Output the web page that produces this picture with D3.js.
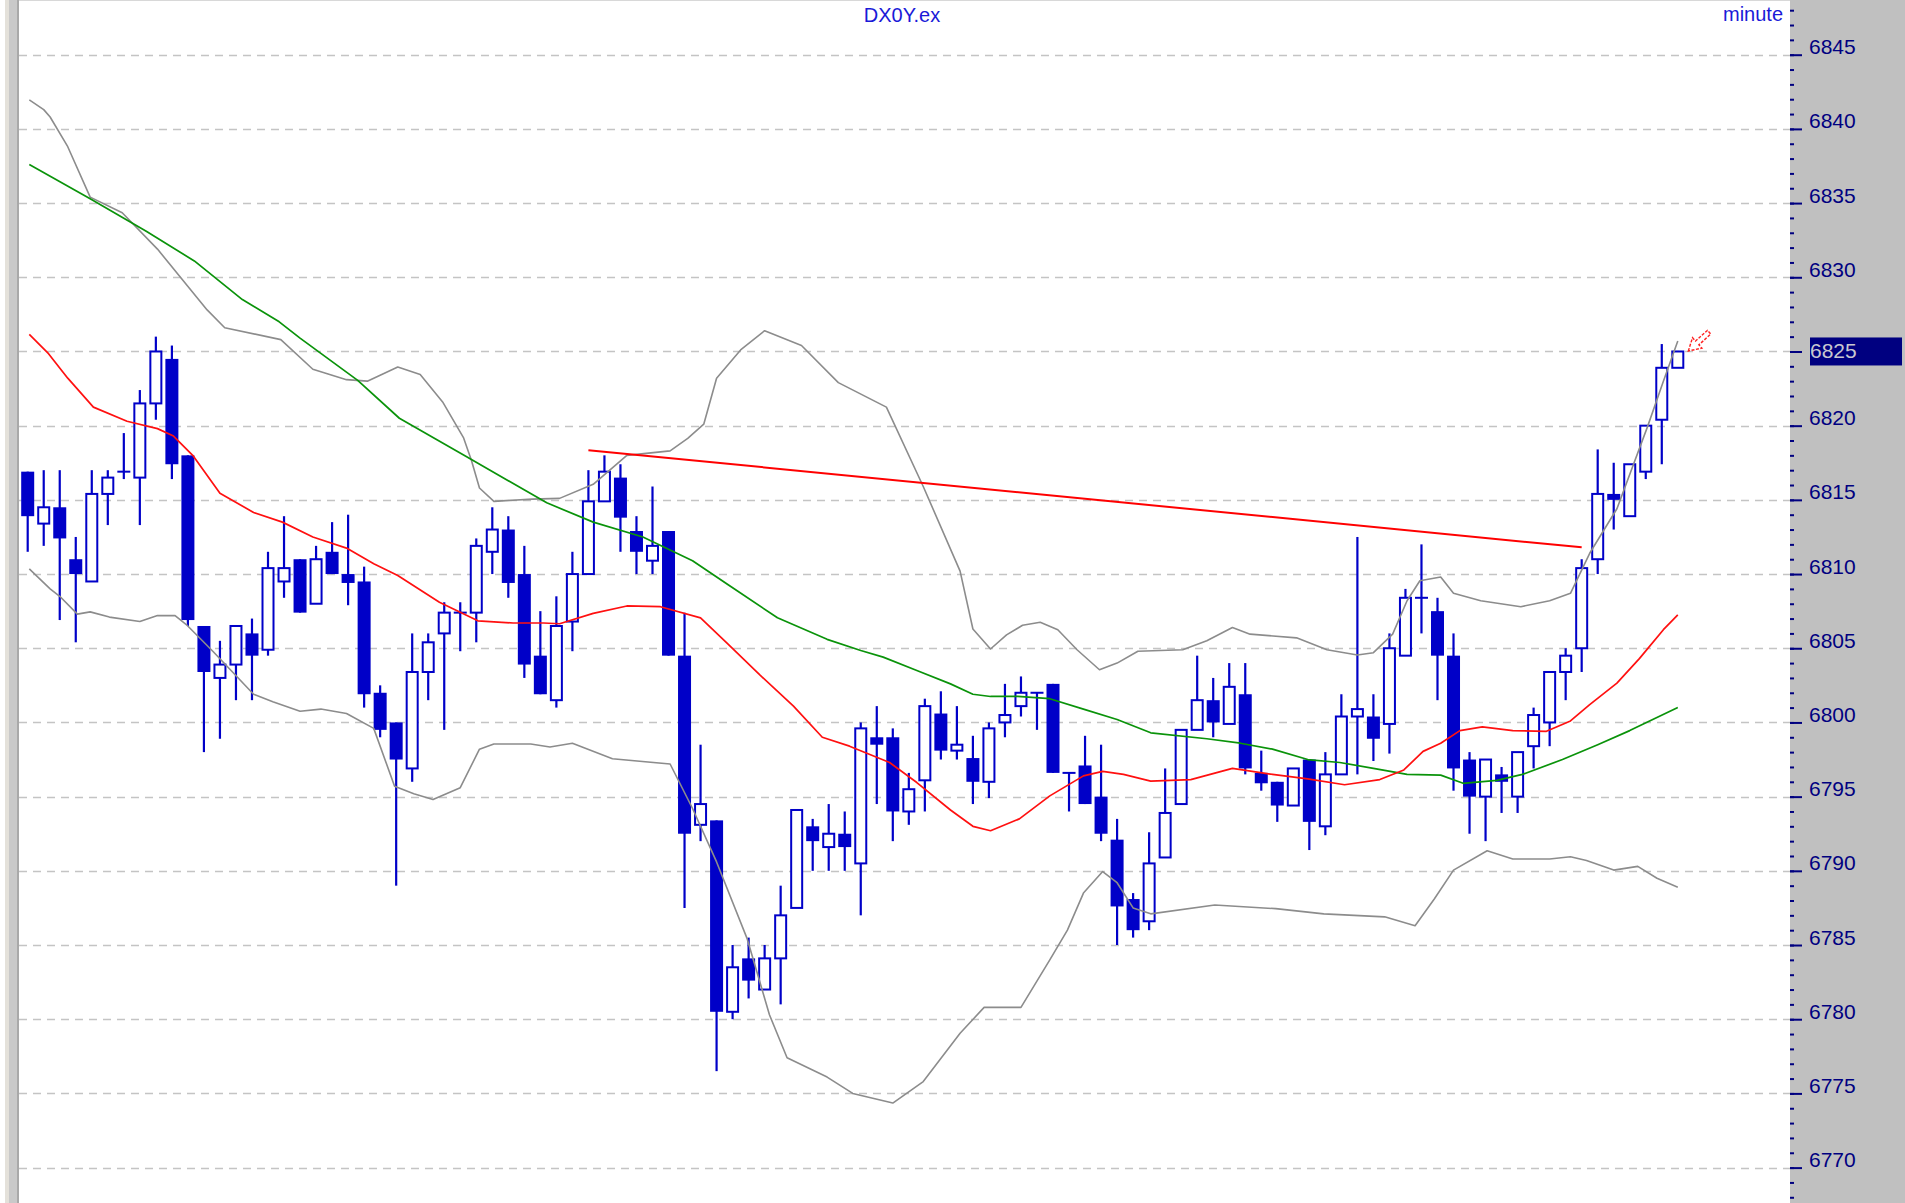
<!DOCTYPE html>
<html>
<head>
<meta charset="utf-8">
<script src="https://cdn.jsdelivr.net/npm/d3@7"></script>
<style>
  html, body { margin: 0; padding: 0; background: #fff; overflow: hidden; }
  svg { display: block; font-family: 'Liberation Sans', Arial, sans-serif; }
</style>
</head>
<body>
<div id="chart"></div>
<script>
// OHLC per minute bar (bar 1 .. 104)
const openP = [6816.9,6813.4,6814.5,6811.0,6809.5,6815.4,6816.9,6816.5,6821.5,6824.5,
  6818.0,6806.5,6803.0,6803.9,6806.0,6804.9,6809.5,6811.0,6808.0,6811.5,
  6810.0,6809.5,6802.0,6800.0,6796.9,6803.4,6806.0,6807.4,6807.4,6811.5,
  6813.0,6810.0,6804.5,6801.5,6806.8,6810.0,6814.9,6816.5,6812.9,6810.9,
  6812.9,6804.5,6793.1,6793.4,6780.5,6784.1,6782.0,6784.1,6787.5,6793.0,
  6791.6,6792.5,6790.5,6799.0,6799.0,6794.0,6796.1,6800.6,6798.1,6797.6,
  6796.0,6800.0,6801.1,6802.0,6802.6,6796.6,6797.1,6795.0,6792.1,6788.1,
  6786.6,6790.9,6794.5,6799.5,6801.5,6799.9,6801.9,6796.6,6796.0,6794.4,
  6797.5,6793.0,6796.5,6800.4,6800.4,6799.9,6804.5,6808.4,6807.5,6804.5,
  6797.5,6795.0,6796.5,6795.0,6798.4,6800.0,6803.4,6805.0,6811.0,6815.4,
  6813.9,6816.9,6820.4,6823.9];
const highP = [6816.9,6817.0,6817.0,6812.5,6817.0,6817.0,6819.5,6822.4,6826.0,6825.4,
  6818.0,6806.5,6805.5,6806.5,6807.0,6811.5,6813.9,6811.0,6811.9,6813.5,
  6814.0,6810.5,6802.5,6800.0,6806.0,6806.0,6808.1,6808.1,6812.4,6814.5,
  6813.9,6811.9,6807.5,6808.5,6811.5,6817.0,6818.0,6817.4,6813.9,6815.9,
  6812.9,6807.4,6798.5,6793.4,6785.0,6785.5,6785.0,6789.0,6794.1,6793.5,
  6794.5,6794.0,6800.0,6801.1,6799.6,6796.6,6801.6,6802.1,6801.1,6799.1,
  6800.0,6802.6,6803.1,6802.0,6802.6,6796.6,6799.1,6798.5,6793.5,6788.5,
  6792.6,6796.9,6799.5,6804.5,6803.0,6804.0,6804.0,6798.1,6796.0,6796.9,
  6797.5,6798.0,6801.9,6812.5,6801.9,6806.0,6809.0,6812.0,6808.4,6806.0,
  6798.0,6797.5,6797.0,6798.0,6801.0,6803.4,6805.0,6811.0,6818.4,6817.5,
  6817.4,6820.0,6825.5,6825.0];
const lowP = [6811.5,6811.9,6806.9,6805.4,6809.5,6813.3,6816.4,6813.3,6820.4,6816.4,
  6806.5,6798.0,6798.9,6801.5,6801.5,6804.5,6808.4,6807.4,6808.0,6810.0,
  6807.9,6801.0,6799.0,6789.0,6796.0,6801.5,6799.5,6804.8,6805.4,6810.0,
  6808.4,6803.0,6801.9,6801.0,6804.8,6810.0,6814.9,6811.5,6810.0,6810.0,
  6804.5,6787.5,6792.0,6776.5,6780.0,6781.4,6782.0,6781.0,6787.5,6790.0,
  6790.0,6790.0,6787.0,6794.5,6792.0,6793.1,6794.0,6797.5,6797.5,6794.5,
  6794.9,6799.0,6800.4,6799.5,6796.6,6794.0,6794.5,6792.0,6785.0,6785.5,
  6786.0,6790.9,6794.5,6799.5,6799.0,6799.9,6796.5,6795.4,6793.3,6794.4,
  6791.4,6792.4,6796.5,6796.5,6797.4,6797.9,6804.5,6806.0,6801.5,6795.4,
  6792.5,6792.0,6793.9,6793.9,6796.9,6798.4,6801.5,6803.4,6810.0,6813.0,
  6813.9,6816.4,6817.4,6823.9];
const closeP = [6813.9,6814.5,6812.4,6810.0,6815.4,6816.5,6816.9,6821.5,6825.0,6817.4,
  6806.9,6803.4,6803.9,6806.5,6804.5,6810.4,6810.4,6807.4,6811.0,6810.0,
  6809.4,6801.9,6799.5,6797.5,6803.4,6805.4,6807.4,6807.4,6811.9,6813.0,
  6809.4,6803.9,6801.9,6806.5,6810.0,6814.9,6816.9,6813.8,6811.5,6811.9,
  6804.5,6792.5,6794.5,6780.5,6783.5,6782.6,6784.1,6787.0,6794.1,6792.0,
  6792.5,6791.6,6799.6,6798.5,6794.0,6795.5,6801.1,6798.1,6798.5,6796.0,
  6799.6,6800.5,6802.0,6802.0,6796.6,6796.6,6794.5,6792.5,6787.6,6786.0,
  6790.5,6793.9,6799.5,6801.5,6800.0,6802.4,6796.9,6795.9,6794.4,6796.9,
  6793.3,6796.5,6800.4,6800.9,6798.9,6805.0,6808.4,6808.4,6804.5,6796.9,
  6795.0,6797.5,6796.0,6798.0,6800.5,6803.4,6804.5,6810.4,6815.4,6815.0,
  6817.4,6820.0,6823.9,6825.0];

// indicator lines as [bar, price] points
const bandMid = [[1.1,6826.15],[2.3,6824.85],[3.5,6823.2],[5.1,6821.25],[7.2,6820.3],[9.1,6819.8],
  [10.1,6819.3],[11.3,6818.0],[13,6815.45],[15.1,6814.15],[16.9,6813.5],[18.8,6812.5],[20.9,6811.75],
  [22.6,6810.7],[24.1,6809.9],[26.7,6808.1],[29.1,6806.85],[31.3,6806.7],[33.2,6806.7],[34.2,6806.65],
  [36.3,6807.35],[38.4,6807.85],[40.5,6807.8],[43,6807.05],[44.7,6805.3],[46.7,6803.2],[48.8,6801.1],
  [50.6,6799.0],[52.3,6798.4],[54.8,6797.3],[56.5,6795.95],[58.6,6794.1],[60,6793.0],[61.1,6792.7],
  [62.9,6793.5],[64.8,6795.05],[66.9,6796.4],[68.1,6796.7],[69.4,6796.5],[71.1,6796.05],[73.6,6796.15],
  [76.2,6796.9],[78.7,6796.5],[80.9,6796.2],[83.2,6795.8],[85.4,6796.15],[86.9,6796.8],[88.1,6798.05],
  [89.2,6798.6],[90.4,6799.45],[91.8,6799.7],[93.7,6799.45],[95.8,6799.4],[97.3,6800.1],[98.5,6801.2],
  [100.2,6802.65],[101.6,6804.3],[103.1,6806.25],[104,6807.25]];
const maSlow = [[1.1,6837.6],[4.9,6835.3],[8.4,6833.1],[11.4,6831.1],[14.4,6828.5],[16.7,6827.0],
  [18,6825.9],[21.6,6823.05],[24.2,6820.5],[28.4,6817.9],[33.4,6814.8],[36.3,6813.5],[39.4,6812.5],
  [42.5,6810.9],[44.7,6809.3],[47.8,6807.05],[50.9,6805.6],[53,6804.85],[54.4,6804.4],[56.5,6803.5],
  [58.6,6802.6],[60,6801.9],[61.1,6801.75],[62.8,6801.75],[64.8,6801.6],[66.9,6800.9],[69,6800.2],
  [71.1,6799.3],[74.6,6798.9],[76.7,6798.6],[78.7,6798.2],[80.9,6797.5],[82.9,6797.3],[85,6796.9],
  [87.1,6796.5],[89.2,6796.45],[90.6,6795.9],[92.7,6796.1],[94.3,6796.5],[96.8,6797.5],[99,6798.5],
  [101,6799.45],[104,6801.0]];
const bandUp = [[1.1,6841.95],[2,6841.3],[2.4,6840.8],[3.5,6838.8],[4.9,6835.4],[6.9,6834.35],
  [9.1,6831.9],[12.2,6827.8],[13.3,6826.6],[16.8,6825.8],[18.8,6823.8],[20.9,6823.1],[22.2,6823.0],
  [24.1,6823.95],[25.5,6823.45],[26.9,6821.6],[28.2,6819.2],[28.7,6817.65],[29.2,6815.8],[30.1,6814.9],
  [32.5,6815.05],[34.2,6815.1],[36.3,6816.05],[38.4,6818.0],[41.1,6818.3],[42.2,6819.15],[43.2,6820.1],
  [44,6823.2],[45.5,6825.1],[47,6826.4],[49.3,6825.4],[51.6,6822.9],[54.6,6821.25],[56.9,6815.9],
  [59.2,6810.2],[60,6806.3],[61.1,6804.95],[62.1,6805.9],[63.1,6806.55],[64.2,6806.75],[65.3,6806.25],
  [66.5,6804.9],[67.9,6803.55],[69,6804.0],[70.3,6804.8],[73.1,6804.9],[74.6,6805.5],[76.2,6806.4],
  [77.3,6805.95],[80.2,6805.7],[82.1,6804.9],[84,6804.55],[85,6804.7],[86.2,6805.95],[87.1,6808.2],
  [87.9,6809.55],[89.2,6809.8],[90,6808.7],[91.7,6808.2],[94.2,6807.8],[96,6808.2],[97.3,6808.7],
  [98.5,6811.4],[100.2,6814.4],[102.1,6819.9],[103.1,6823.0],[104,6825.7]];
const bandLow = [[1.1,6810.35],[2.4,6809.0],[3,6808.5],[4.1,6807.3],[4.9,6807.45],[6.1,6807.1],
  [8,6806.8],[9.1,6807.2],[10.2,6807.2],[10.9,6806.6],[12.6,6804.75],[15.1,6801.9],[16.3,6801.4],
  [18,6800.75],[19.3,6800.9],[20.9,6800.6],[22.6,6799.6],[23.9,6795.7],[25.1,6795.2],[26.3,6794.8],
  [28,6795.6],[29.2,6798.2],[30.1,6798.55],[32.4,6798.55],[33.6,6798.35],[35,6798.6],[37.5,6797.55],
  [41.1,6797.2],[42.5,6794.2],[44,6790.6],[45.9,6785.45],[47.3,6780.3],[48.4,6777.4],[50.9,6776.1],
  [52.5,6775.0],[55,6774.35],[56.9,6775.8],[59.2,6779.05],[60.7,6780.8],[63,6780.8],[64.8,6784.0],
  [65.9,6786.0],[66.9,6788.5],[68.1,6789.95],[69,6789.2],[70,6787.5],[71.1,6787.1],[75.1,6787.7],
  [78.9,6787.45],[81.9,6787.1],[85.7,6786.9],[87.6,6786.3],[88.8,6788.1],[90,6790.05],[92.1,6791.35],
  [93.7,6790.8],[96,6790.8],[97.3,6790.95],[98.3,6790.7],[100,6790.05],[101.5,6790.3],[102.7,6789.5],
  [104,6788.9]];
const trendLine = [[36, 6818.35], [98, 6811.8]];

const priceTicks = d3.range(6770, 6846, 5);
const symbolName = 'DX0Y.ex';
const periodName = 'minute';

const width = 1905, height = 1203;
const plotLeft = 19, panelX = 1790;

const svg = d3.select('#chart').append('svg')
    .attr('width', width)
    .attr('height', height);

const x = d3.scaleLinear().domain([1, 104]).range([27.7, 1677.8]);
const y = d3.scaleLinear().domain([6770, 6845]).range([1167.6, 54.7]);

// left frame strip
svg.append('rect').attr('x', 5).attr('y', 0).attr('width', 4).attr('height', height).attr('fill', '#e4e1da');
svg.append('rect').attr('x', 9).attr('y', 0).attr('width', 8).attr('height', height).attr('fill', '#c9c9c9');
svg.append('rect').attr('x', 17).attr('y', 0).attr('width', 2).attr('height', height).attr('fill', '#a9a9a9');
svg.append('line').attr('x1', plotLeft).attr('x2', panelX).attr('y1', 0.5).attr('y2', 0.5)
    .attr('stroke', '#d8d8d8');

// grid
svg.append('g').selectAll('line')
    .data(priceTicks)
    .enter().append('line')
    .attr('x1', plotLeft)
    .attr('x2', panelX)
    .attr('y1', d => Math.round(y(d)) + 0.5)
    .attr('y2', d => Math.round(y(d)) + 0.5)
    .attr('stroke', '#c4c4c4')
    .attr('stroke-width', 1.6)
    .attr('stroke-dasharray', '8,6');

// candles
const bars = d3.range(openP.length).map(i => ({
  n: i + 1, o: openP[i], h: highP[i], l: lowP[i], c: closeP[i]
}));
const barColor = '#0000c8';
const cg = svg.append('g').attr('class', 'candles');

cg.selectAll('line.wick')
    .data(bars)
    .enter().append('line')
    .attr('class', 'wick')
    .attr('x1', d => x(d.n))
    .attr('x2', d => x(d.n))
    .attr('y1', d => y(d.h))
    .attr('y2', d => y(d.l))
    .attr('stroke', barColor)
    .attr('stroke-width', 2.2);

cg.selectAll('rect.down')
    .data(bars.filter(d => d.c < d.o))
    .enter().append('rect')
    .attr('class', 'down')
    .attr('x', d => x(d.n) - 6.5)
    .attr('width', 13)
    .attr('y', d => y(d.o))
    .attr('height', d => y(d.c) - y(d.o))
    .attr('fill', barColor);

cg.selectAll('rect.up')
    .data(bars.filter(d => d.c > d.o))
    .enter().append('rect')
    .attr('class', 'up')
    .attr('x', d => x(d.n) - 5.5)
    .attr('width', 11)
    .attr('y', d => y(d.c))
    .attr('height', d => y(d.o) - y(d.c))
    .attr('fill', '#fff')
    .attr('stroke', barColor)
    .attr('stroke-width', 2);

cg.selectAll('line.doji')
    .data(bars.filter(d => d.c === d.o))
    .enter().append('line')
    .attr('class', 'doji')
    .attr('x1', d => x(d.n) - 6.5)
    .attr('x2', d => x(d.n) + 6.5)
    .attr('y1', d => y(d.o))
    .attr('y2', d => y(d.o))
    .attr('stroke', barColor)
    .attr('stroke-width', 2);

// indicators on top of the bars
const line = d3.line().x(d => x(d[0])).y(d => y(d[1]));

function drawLine(pts, color, w) {
  svg.append('path')
      .attr('d', line(pts))
      .attr('fill', 'none')
      .attr('stroke', color)
      .attr('stroke-width', w)
      .attr('stroke-linejoin', 'round');
}
drawLine(bandUp, '#8c8c8c', 1.6);
drawLine(bandLow, '#8c8c8c', 1.6);
drawLine(maSlow, '#0a930a', 1.7);
drawLine(bandMid, '#ff1010', 1.7);
drawLine(trendLine, '#ff0000', 2);

// marker arrow next to the last bar
const last = bars[bars.length - 1];
svg.append('path')
    .attr('d', 'M0,0 L12,-7 L12,-2.5 L28,-2.5 L28,2.5 L12,2.5 L12,7 Z')
    .attr('transform', 'translate(' + (x(last.n) + 10.5) + ',' + (y(last.c) - 0.5) + ') rotate(-42)')
    .attr('fill', '#fff')
    .attr('stroke', '#ff2020')
    .attr('stroke-width', 1.4)
    .attr('stroke-dasharray', '3,1.5');

// price axis panel
svg.append('rect')
    .attr('x', panelX).attr('y', 0)
    .attr('width', width - panelX).attr('height', height)
    .attr('fill', '#c0c0c0');

const minorAxis = svg.append('g')
    .attr('transform', 'translate(' + panelX + ',0)')
    .call(d3.axisRight(y).tickValues(d3.range(6768, 6849)).tickSize(4).tickFormat(''));
minorAxis.select('.domain').remove();
minorAxis.selectAll('line').attr('stroke', '#000080').attr('stroke-width', 2);

const majorAxis = svg.append('g')
    .attr('transform', 'translate(' + panelX + ',0)')
    .call(d3.axisRight(y).tickValues(priceTicks).tickSize(12).tickFormat(d3.format('d')));
majorAxis.select('.domain').remove();
majorAxis.selectAll('line').attr('stroke', '#000080').attr('stroke-width', 2);
majorAxis.selectAll('text')
    .attr('x', 19)
    .attr('dy', -1)
    .attr('fill', '#000080')
    .style('font-size', '21px')
    .style('font-family', "'Liberation Sans', Arial, sans-serif");
// the current price box covers the label at the last close
majorAxis.selectAll('.tick').filter(d => d === last.c).select('text').remove();

// current price box
svg.append('rect')
    .attr('x', 1810).attr('y', y(last.c) - 14)
    .attr('width', 92).attr('height', 28)
    .attr('fill', '#000080');
svg.append('text')
    .attr('x', 1810).attr('y', y(last.c) + 7)
    .attr('fill', '#c8c8d0')
    .style('font-size', '21px')
    .text(d3.format('d')(last.c));

// captions
svg.append('text')
    .attr('x', 902).attr('y', 22)
    .attr('text-anchor', 'middle')
    .attr('fill', '#1a1ad8')
    .style('font-size', '20px')
    .text(symbolName);
svg.append('text')
    .attr('x', 1783).attr('y', 21)
    .attr('text-anchor', 'end')
    .attr('fill', '#1a1ad8')
    .style('font-size', '20px')
    .text(periodName);
</script>
</body>
</html>
